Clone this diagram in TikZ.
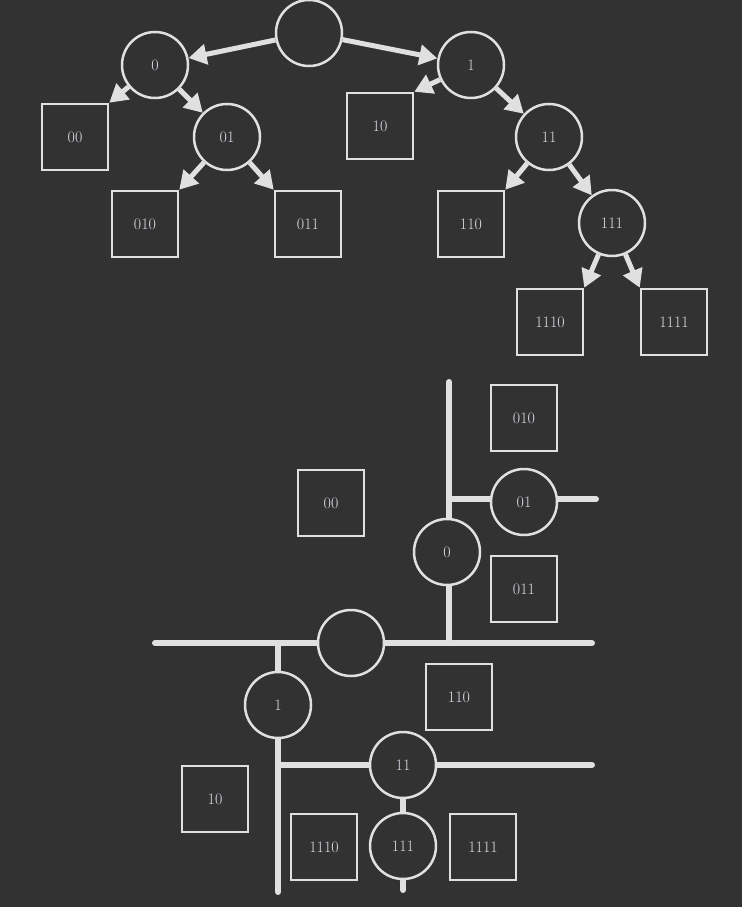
\documentclass[tikz,border=0pt]{standalone}
\usetikzlibrary{arrows.meta}
\definecolor{bg}{HTML}{323232}
\definecolor{fg}{HTML}{E0E0E0}
\definecolor{tx}{HTML}{D8DCE4}
\begin{document}
\begin{tikzpicture}[x=1pt,y=-1pt,
  cnode/.style={circle,draw=fg,line width=2.5pt,fill=bg,minimum size=66pt,inner sep=0pt,text=tx,font=\fontsize{16}{16}\selectfont},
  snode/.style={rectangle,draw=fg,line width=2.5pt,fill=bg,minimum size=66pt,inner sep=0pt,text=tx,font=\fontsize{16}{16}\selectfont},
  arr/.style={draw=fg,line width=5pt,-{Triangle[length=18pt,width=20pt]}},
  bar/.style={draw=fg,line width=6pt,line cap=round}]
\fill[bg] (0,0) rectangle (742,907);
\useasboundingbox (0,0) rectangle (742,907);
% top tree
\node[cnode] (r) at (309,33) {};
\node[cnode] (n0) at (155,65) {0};
\node[cnode] (n1) at (471,65) {1};
\node[cnode] (n01) at (227,137) {01};
\node[cnode] (n11) at (549,137) {11};
\node[cnode] (n111) at (612,223) {111};
\node[snode] (s00) at (75,137) {00};
\node[snode] (s10) at (380,126) {10};
\node[snode] (s010) at (145,224) {010};
\node[snode] (s011) at (308,224) {011};
\node[snode] (s110) at (471,224) {110};
\node[snode] (s1110) at (550,322) {1110};
\node[snode] (s1111) at (674,322) {1111};
\draw[arr] (r) -- (n0);
\draw[arr] (r) -- (n1);
\draw[arr] (n0) -- (s00.north east);
\draw[arr] (n0) -- (n01);
\draw[arr] (n1) -- (s10.north east);
\draw[arr] (n1) -- (n11);
\draw[arr] (n01) -- (s010.north east);
\draw[arr] (n01) -- (s011.north west);
\draw[arr] (n11) -- (s110.north east);
\draw[arr] (n11) -- (n111);
\draw[arr] (n111) -- (s1110.north east);
\draw[arr] (n111) -- (s1111.north west);
% bottom
\coordinate (aT) at (449,382);
\coordinate (aB) at (449,643);
\coordinate (hL) at (155,643);
\coordinate (hR) at (592,643);
\coordinate (c01L) at (449,499);
\coordinate (c01R) at (596,499);
\coordinate (bT) at (278,643);
\coordinate (bB) at (278,892);
\coordinate (c11L) at (278,765);
\coordinate (c11R) at (592,765);
\coordinate (dT) at (403,765);
\coordinate (dB) at (403,890);
\draw[bar] (hL) -- (hR);
\draw[bar] (aT) -- (aB);
\draw[bar] (c01L) -- (c01R);
\draw[bar] (bT) -- (bB);
\draw[bar] (c11L) -- (c11R);
\draw[bar] (dT) -- (dB);
\node[cnode] (br) at (351,643) {};
\node[cnode] (b0) at (447,552) {0};
\node[cnode] (b01) at (524,502) {01};
\node[cnode] (b1) at (278,705) {1};
\node[cnode] (b11) at (403,765) {11};
\node[cnode] (b111) at (403,846) {111};
\node[snode] (t010) at (524,418) {010};
\node[snode] (t011) at (524,589) {011};
\node[snode] (t00) at (331,503) {00};
\node[snode] (t110) at (459,697) {110};
\node[snode] (t10) at (215,799) {10};
\node[snode] (t1110) at (324,847) {1110};
\node[snode] (t1111) at (483,847) {1111};
\end{tikzpicture}
\end{document}
